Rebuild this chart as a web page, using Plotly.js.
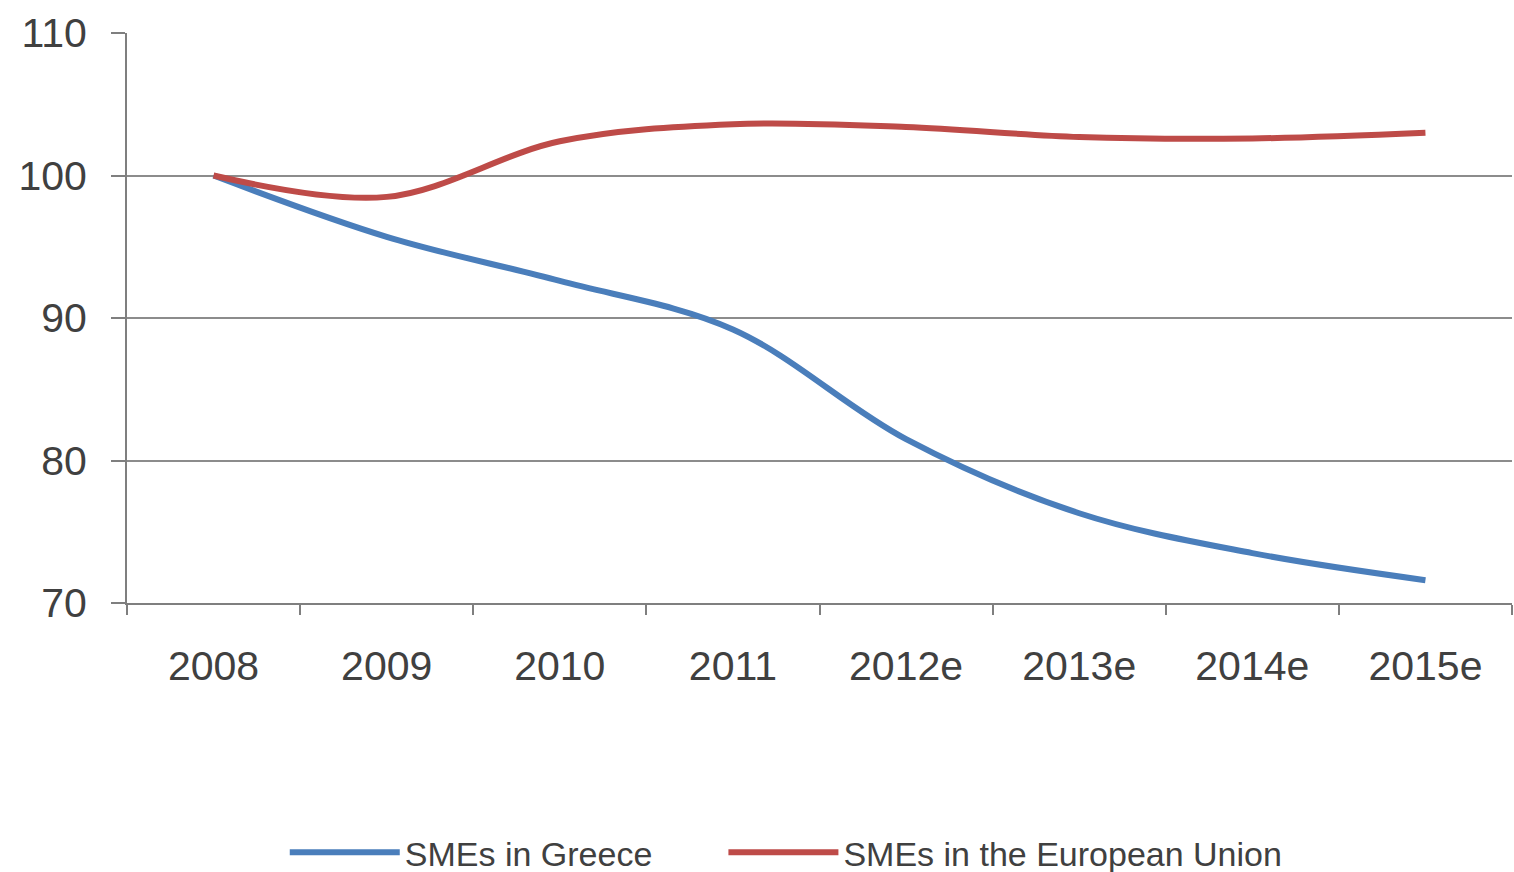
<!DOCTYPE html>
<html>
<head>
<meta charset="utf-8">
<script src="https://cdn.plot.ly/plotly-3.0.1.min.js"></script>
<style>html,body{margin:0;padding:0;background:#fff;}#chart{width:1514px;height:872px;}</style>
</head>
<body>
<div id="chart"></div>
<script>
var categories = ["2008", "2009", "2010", "2011", "2012e", "2013e", "2014e", "2015e"];
var greeceValues = [100, 95.7, 92.6, 89.2, 81.5, 76.3, 73.5, 71.6];
var euValues = [100, 98.5, 102.4, 103.6, 103.4, 102.7, 102.6, 103.0];
var yTickVals = [70, 80, 90, 100, 110];
var gridVals = [80, 90, 100];
var seriesNames = ["SMEs in Greece", "SMEs in the European Union"];

var fontFam = "Liberation Sans, Arial, sans-serif";
var pad = "\u00a0\u00a0\u00a0\u00a0\u00a0\u00a0\u00a0";
var traces = [
  {x: categories, y: greeceValues, name: seriesNames[0] + pad, type: "scatter", mode: "lines",
   line: {color: "#4A7EBB", width: 6, shape: "spline", smoothing: 1}},
  {x: categories, y: euValues, name: seriesNames[1], type: "scatter", mode: "lines",
   line: {color: "#BE4B48", width: 6, shape: "spline", smoothing: 1}},
  {x: categories, y: gridVals.map(function(){return null;}), yaxis: "y2", showlegend: false,
   type: "scatter", mode: "lines", hoverinfo: "skip"}
];

var layout = {
  width: 1514, height: 872,
  margin: {l: 127, r: 2, t: 33, b: 269, autoexpand: false},
  paper_bgcolor: "#fff", plot_bgcolor: "rgba(0,0,0,0)",
  font: {family: fontFam, color: "#404040"},
  showlegend: true,
  xaxis: {
    type: "category", range: [-0.5, 7.5],
    showline: true, linecolor: "#7f7f7f", linewidth: 2,
    ticks: "outside", tickson: "boundaries", ticklen: 10, tickwidth: 2, tickcolor: "#7f7f7f",
    showgrid: false, zeroline: false,
    tickfont: {size: 41, color: "#404040", family: fontFam},
    ticklabelstandoff: 26
  },
  yaxis: {
    range: [70, 110], tickvals: yTickVals, ticktext: yTickVals.map(String),
    showline: true, linecolor: "#7f7f7f", linewidth: 2,
    ticks: "outside", ticklen: 14, tickwidth: 2, tickcolor: "#7f7f7f",
    showgrid: false, zeroline: false,
    tickfont: {size: 41, color: "#404040", family: fontFam},
    ticklabelstandoff: 16
  },
  yaxis2: {
    range: [70, 110], overlaying: "y", side: "left",
    tickvals: gridVals, showticklabels: false, ticks: "",
    showgrid: true, gridcolor: "#8c8c8c", gridwidth: 2,
    zeroline: false, showline: false
  },
  legend: {
    orientation: "h", x: 0.476, xanchor: "center", y: -0.438, yanchor: "middle",
    font: {size: 34, color: "#404040", family: fontFam},
    itemwidth: 110, tracegroupgap: 0, bgcolor: "rgba(0,0,0,0)"
  }
};

Plotly.newPlot("chart", traces, layout, {staticPlot: true, displayModeBar: false});
</script>
</body>
</html>
